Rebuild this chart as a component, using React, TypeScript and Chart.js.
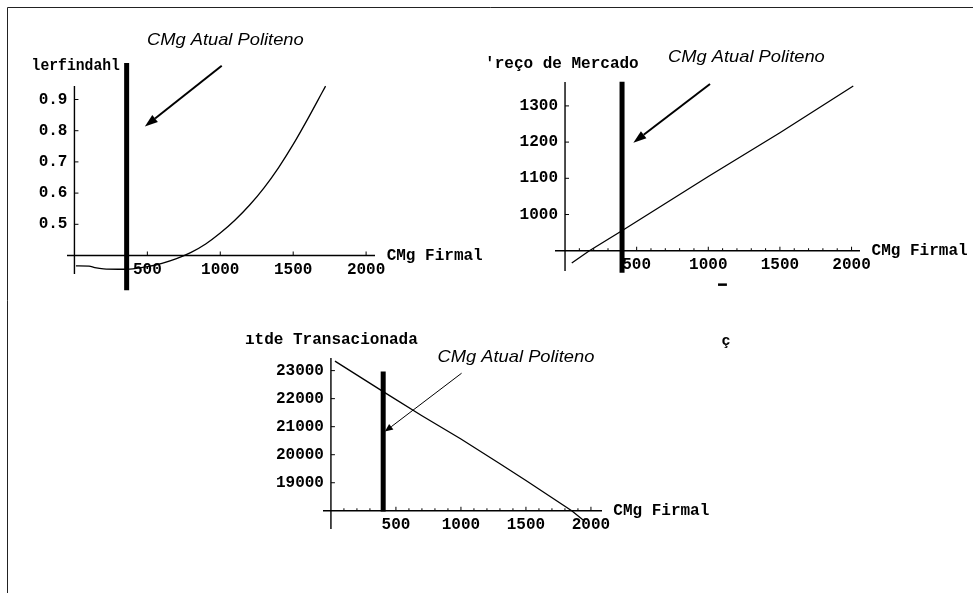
import React, { useEffect, useRef } from 'react';
import { Chart, registerables } from 'chart.js';

Chart.register(...registerables);

const W = 973;
const H = 593;

// ---------- data ----------
// Panel 1: Herfindahl vs CMg Firma
const herfX = [10, 100, 140, 200, 300, 358, 400, 500, 600, 700, 800, 900, 1000, 1100, 1200, 1300, 1400, 1500, 1600, 1700, 1722];
const herfY = [0.367, 0.366, 0.361, 0.357, 0.356, 0.356, 0.357, 0.364, 0.375, 0.39, 0.41, 0.437, 0.472, 0.513, 0.561, 0.617, 0.682, 0.756, 0.838, 0.924, 0.943];
const herfYTicks = [0.5, 0.6, 0.7, 0.8, 0.9];

// Panel 2: Preço de Mercado vs CMg Firma
const precoX = [47, 170, 400, 1000, 1500, 2012];
const precoY = [866, 900, 956, 1105, 1226, 1355];
const precoYTicks = [1000, 1100, 1200, 1300];

// Panel 3: Qtde Transacionada vs CMg Firma
const qtdeX = [31, 402, 700, 1000, 1300, 1500, 1852, 1954];
const qtdeY = [23340, 22252, 21390, 20560, 19680, 19080, 18000, 17620];
const qtdeYTicks = [19000, 20000, 21000, 22000, 23000];

const xTicks = [500, 1000, 1500, 2000];
const xMinorTicks = [100, 200, 300, 400, 600, 700, 800, 900, 1100, 1200, 1300, 1400, 1600, 1700, 1800, 1900];

// current marginal cost (CMg Atual Politeno) as read in each panel
const cmgAtual = [358, 398, 402];

const noteText = 'CMg Atual Politeno';
const xAxisTitle = 'CMg Firmal';
const yTitles = ['lerfindahl', "'reço de Mercado", 'ıtde Transacionada'];

// ---------- layout ----------
type Panel = {
  box: { left: number; right: number; top: number; bottom: number };
  xRange: [number, number];
  yRange: [number, number];
  xAxisAt: number;
  xs: number[];
  ys: number[];
  smooth: boolean;
  yTicks: number[];
  yFmt: (v: number) => string;
  minor: boolean;
  cmg: number;
  cmgSpan: [number, number];
  yTitle: string;
  yTitleAt: [number, number];
  yTitleSx: number;
  xTitleAt: [number, number];
  noteAt: [number, number];
  arrowFrom: [number, number];
  arrowTo: [number, number];
  arrowWidth: number;
  headLen: number;
  headHalf: number;
  extra?: (ctx: CanvasRenderingContext2D, px: (v: number) => number, py: (v: number) => number) => void;
};

const MONO = 'bold 16px "Liberation Mono", "Courier New", monospace';
const SANS_IT = 'italic 16.5px "Liberation Sans", Arial, sans-serif';

function drawText(ctx: CanvasRenderingContext2D, s: string, x: number, y: number, font: string, align: CanvasTextAlign, baseline: CanvasTextBaseline, sx = 1) {
  ctx.save();
  ctx.font = font;
  ctx.textAlign = align;
  ctx.textBaseline = baseline;
  ctx.fillStyle = '#000';
  ctx.translate(x, y);
  ctx.scale(sx, 1);
  ctx.fillText(s, 0, 0);
  ctx.restore();
}

const panels: Panel[] = [
  {
    box: { left: 67, right: 375, top: 86, bottom: 274 },
    xRange: [-51, 2061],
    yRange: [0.3407, 0.9433],
    xAxisAt: 0.4,
    xs: herfX,
    ys: herfY,
    smooth: true,
    yTicks: herfYTicks,
    yFmt: (v) => v.toFixed(1),
    minor: false,
    cmg: cmgAtual[0],
    cmgSpan: [0.289, 1.017],
    yTitle: yTitles[0],
    yTitleAt: [-294, 1.006],
    yTitleSx: 0.92,
    xTitleAt: [2141, 0.4],
    noteAt: [497, 1.075],
    arrowFrom: [1010, 1.008],
    arrowTo: [483, 0.8135],
    arrowWidth: 2,
    headLen: 13,
    headHalf: 4.5,
  },
  {
    box: { left: 555, right: 860, top: 82, bottom: 271 },
    xRange: [-70, 2059],
    yRange: [844, 1366],
    xAxisAt: 900,
    xs: precoX,
    ys: precoY,
    smooth: false,
    yTicks: precoYTicks,
    yFmt: (v) => String(v),
    minor: true,
    cmg: cmgAtual[1],
    cmgSpan: [839, 1367],
    yTitle: yTitles[1],
    yTitleAt: [-558, 1416],
    yTitleSx: 1,
    xTitleAt: [2140, 900],
    noteAt: [719, 1421.6],
    arrowFrom: [1012, 1360.7],
    arrowTo: [477, 1198.5],
    arrowWidth: 2,
    headLen: 13,
    headHalf: 4.5,
    extra: (ctx, px, py) => {
      ctx.fillStyle = '#000';
      const x1 = px(1068);
      const x2 = px(1130);
      const y = py(807);
      ctx.fillRect(x1, y - 1, x2 - x1, 2.5);
    },
  },
  {
    box: { left: 323, right: 602, top: 358, bottom: 529 },
    xRange: [-61, 2085],
    yRange: [17350, 23450],
    xAxisAt: 18000,
    xs: qtdeX,
    ys: qtdeY,
    smooth: false,
    yTicks: qtdeYTicks,
    yFmt: (v) => String(v),
    minor: true,
    cmg: cmgAtual[2],
    cmgSpan: [17975, 22964],
    yTitle: yTitles[2],
    yTitleAt: [-661, 24094],
    yTitleSx: 1,
    xTitleAt: [2172, 18000],
    noteAt: [820, 23320],
    arrowFrom: [1005, 22907],
    arrowTo: [415, 20826],
    arrowWidth: 1,
    headLen: 8,
    headHalf: 3.5,
    extra: (ctx, px, py) => {
      drawText(ctx, 'ç', px(3005), py(24058), 'bold 15px "Liberation Mono", monospace', 'left', 'middle');
    },
  },
];

function makePlugin(p: Panel, index: number) {
  return {
    id: 'mathematicaAxes' + index,
    beforeDatasetsDraw(chart: any) {
      const ctx: CanvasRenderingContext2D = chart.ctx;
      const xs = chart.scales.x;
      const ys = chart.scales.y;
      const px = (v: number) => xs.getPixelForValue(v);
      const py = (v: number) => ys.getPixelForValue(v);
      ctx.save();
      if (index === 0) {
        // page frame
        ctx.strokeStyle = '#222';
        ctx.lineWidth = 1;
        ctx.beginPath();
        ctx.moveTo(7.5, H);
        ctx.lineTo(7.5, 7.5);
        ctx.lineTo(W, 7.5);
        ctx.stroke();
      }
      const ax = px(0);
      const ay = py(p.xAxisAt);
      ctx.strokeStyle = '#000';
      ctx.lineWidth = 1.4;
      ctx.beginPath();
      ctx.moveTo(p.box.left, ay);
      ctx.lineTo(p.box.right, ay);
      ctx.moveTo(ax, p.box.top);
      ctx.lineTo(ax, p.box.bottom);
      ctx.stroke();
      // ticks
      ctx.lineWidth = 1;
      ctx.beginPath();
      xTicks.forEach((t) => {
        ctx.moveTo(px(t), ay);
        ctx.lineTo(px(t), ay - 4);
      });
      if (p.minor) {
        xMinorTicks.forEach((t) => {
          ctx.moveTo(px(t), ay);
          ctx.lineTo(px(t), ay - 2.5);
        });
      }
      p.yTicks.forEach((t) => {
        ctx.moveTo(ax, py(t));
        ctx.lineTo(ax + 4, py(t));
      });
      ctx.stroke();
      // tick labels
      xTicks.forEach((t) => drawText(ctx, String(t), px(t), ay + 14, MONO, 'center', 'middle'));
      p.yTicks.forEach((t) => drawText(ctx, p.yFmt(t), ax - 7, py(t), MONO, 'right', 'middle'));
      // axis titles
      drawText(ctx, p.yTitle, px(p.yTitleAt[0]), py(p.yTitleAt[1]), MONO, 'left', 'middle', p.yTitleSx);
      drawText(ctx, xAxisTitle, px(p.xTitleAt[0]), py(p.xTitleAt[1]), MONO, 'left', 'middle');
      if (p.extra) p.extra(ctx, px, py);
      ctx.restore();
    },
    afterDatasetsDraw(chart: any) {
      const ctx: CanvasRenderingContext2D = chart.ctx;
      const xs = chart.scales.x;
      const ys = chart.scales.y;
      const px = (v: number) => xs.getPixelForValue(v);
      const py = (v: number) => ys.getPixelForValue(v);
      ctx.save();
      drawText(ctx, noteText, px(p.noteAt[0]), py(p.noteAt[1]), SANS_IT, 'left', 'alphabetic', 1.11);
      const x1 = px(p.arrowFrom[0]);
      const y1 = py(p.arrowFrom[1]);
      const x2 = px(p.arrowTo[0]);
      const y2 = py(p.arrowTo[1]);
      const ang = Math.atan2(y2 - y1, x2 - x1);
      const bx = x2 - Math.cos(ang) * p.headLen;
      const by = y2 - Math.sin(ang) * p.headLen;
      ctx.strokeStyle = '#000';
      ctx.lineWidth = p.arrowWidth;
      ctx.beginPath();
      ctx.moveTo(x1, y1);
      ctx.lineTo(bx, by);
      ctx.stroke();
      ctx.fillStyle = '#000';
      ctx.beginPath();
      ctx.moveTo(x2, y2);
      ctx.lineTo(bx + Math.sin(ang) * p.headHalf, by - Math.cos(ang) * p.headHalf);
      ctx.lineTo(bx - Math.sin(ang) * p.headHalf, by + Math.cos(ang) * p.headHalf);
      ctx.closePath();
      ctx.fill();
      ctx.restore();
    },
  };
}

function PanelChart({ p, index }: { p: Panel; index: number }) {
  const ref = useRef<HTMLCanvasElement>(null);
  useEffect(() => {
    if (!ref.current) return;
    const chart = new Chart(ref.current, {
      type: 'line',
      data: {
        datasets: [
          {
            data: p.xs.map((x, i) => ({ x, y: p.ys[i] })),
            borderColor: '#000',
            borderWidth: 1.3,
            pointRadius: 0,
            fill: false,
            tension: 0,
            cubicInterpolationMode: p.smooth ? 'monotone' : 'default',
            clip: false,
          } as any,
          {
            data: [
              { x: p.cmg, y: p.cmgSpan[1] },
              { x: p.cmg, y: p.cmgSpan[0] },
            ],
            borderColor: '#000',
            borderWidth: 5,
            borderCapStyle: 'butt',
            pointRadius: 0,
            fill: false,
            clip: false,
          } as any,
        ],
      },
      options: {
        animation: false,
        responsive: false,
        maintainAspectRatio: false,
        events: [],
        layout: {
          padding: {
            left: p.box.left,
            top: p.box.top,
            right: W - p.box.right,
            bottom: H - p.box.bottom,
          },
        },
        plugins: { legend: { display: false }, tooltip: { enabled: false }, title: { display: false } },
        scales: {
          x: { type: 'linear', min: p.xRange[0], max: p.xRange[1], display: false },
          y: { type: 'linear', min: p.yRange[0], max: p.yRange[1], display: false },
        },
      },
      plugins: [makePlugin(p, index)],
    });
    return () => chart.destroy();
  }, [p, index]);
  return (
    <canvas
      ref={ref}
      width={W}
      height={H}
      style={{ position: 'absolute', left: 0, top: 0, width: W, height: H, display: 'block' }}
    />
  );
}

export default function App() {
  return (
    <div style={{ position: 'fixed', left: 0, top: 0, width: W, height: H, background: '#fff', overflow: 'hidden' }}>
      {panels.map((p, i) => (
        <PanelChart key={i} p={p} index={i} />
      ))}
    </div>
  );
}
